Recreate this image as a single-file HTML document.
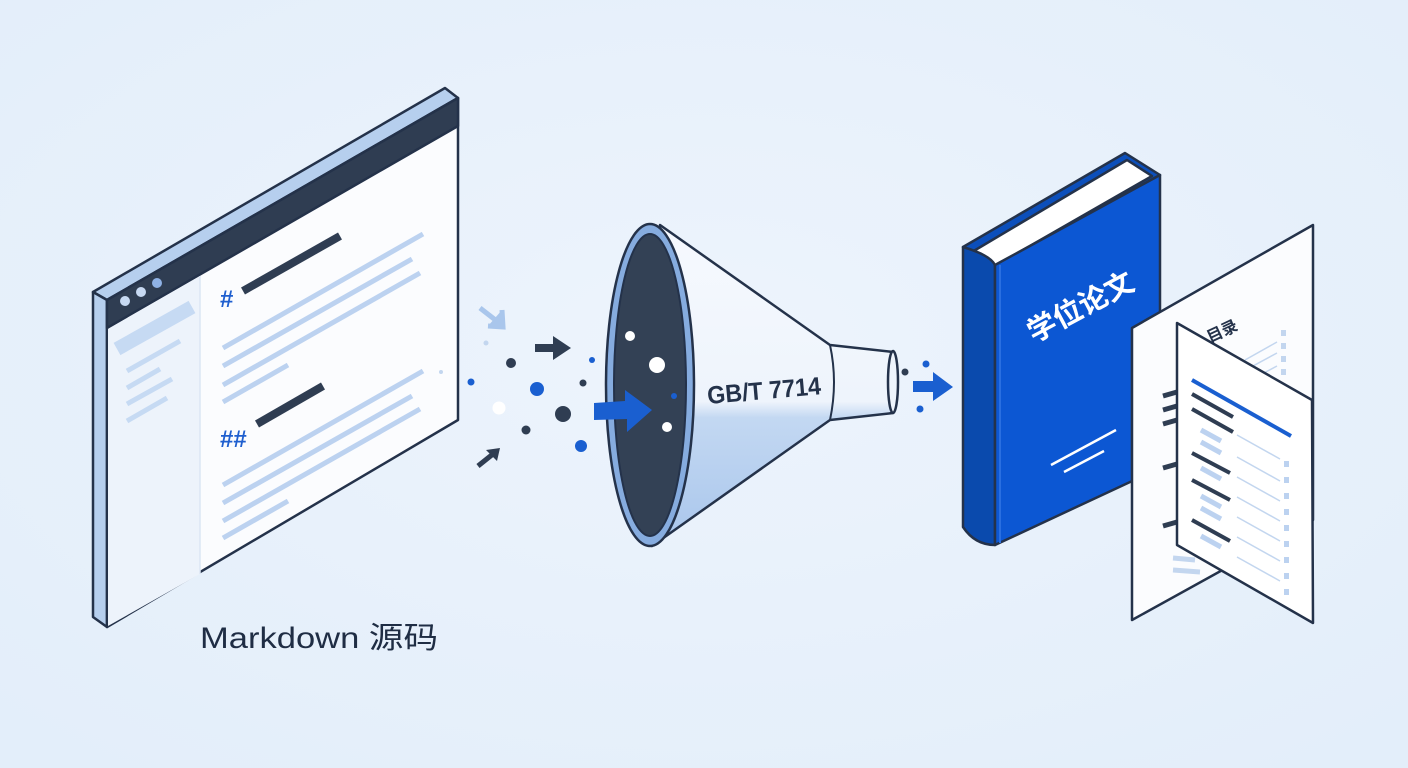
<!DOCTYPE html>
<html><head><meta charset="utf-8"><style>
html,body{margin:0;padding:0;background:#e7f0fb;}
svg{display:block}
</style></head><body>
<svg width="1408" height="768" viewBox="0 0 1408 768" xmlns="http://www.w3.org/2000/svg">
<defs>
<radialGradient id="bg" cx="50%" cy="45%" r="70%"><stop offset="0" stop-color="#edf4fc"/><stop offset="1" stop-color="#e3eefa"/></radialGradient>
<linearGradient id="cone" x1="0" y1="0" x2="0" y2="1"><stop offset="0" stop-color="#f6f9fe"/><stop offset="0.55" stop-color="#eef4fc"/><stop offset="0.6" stop-color="#c3d8f2"/><stop offset="1" stop-color="#a9c6ec"/></linearGradient>
</defs>
<rect width="1408" height="768" fill="url(#bg)"/>

<!-- Browser window -->
<g stroke="#24324a" stroke-width="2.5" stroke-linejoin="round">
  <polygon points="93,292 445,88 458,98 107,300" fill="#b6cfee"/>
  <polygon points="93,292 107,300 107,627 93,617" fill="#b6cfee"/>
  <polygon points="107,300 458,98 458,420 107,627" fill="#fbfcfe"/>
  <polygon points="107,300 458,98 458,126 107,328" fill="#2f3d52"/>
</g>
<polygon points="108,329 200,276 200,574 108,626" fill="#edf3fb"/>
<line x1="200" y1="276" x2="200" y2="574" stroke="#dbe6f4" stroke-width="1.5"/>
<circle cx="125" cy="301" r="5" fill="#c7d9f2"/>
<circle cx="141" cy="292" r="5" fill="#c7d9f2"/>
<circle cx="157" cy="283" r="5" fill="#8fb2e6"/>
<g stroke-linecap="butt">
  <line x1="117" y1="349" x2="192" y2="307" stroke="#c6daf3" stroke-width="14"/>
  <g stroke="#c6daf3" stroke-width="5">
    <line x1="127" y1="371" x2="180" y2="341"/>
    <line x1="127" y1="388" x2="160" y2="369"/>
    <line x1="127" y1="404" x2="172" y2="379"/>
    <line x1="127" y1="421" x2="167" y2="398"/>
  </g>
  <line x1="243" y1="291" x2="340" y2="236" stroke="#2f3d52" stroke-width="8"/>
  <line x1="257" y1="424" x2="323" y2="386" stroke="#2f3d52" stroke-width="8"/>
  <g stroke="#bcd2f0" stroke-width="5">
    <line x1="223" y1="348" x2="423" y2="234"/>
    <line x1="223" y1="366" x2="412" y2="259"/>
    <line x1="223" y1="385" x2="420" y2="273"/>
    <line x1="223" y1="402" x2="288" y2="365"/>
    <line x1="223" y1="485" x2="423" y2="371"/>
    <line x1="223" y1="503" x2="412" y2="396"/>
    <line x1="223" y1="521" x2="420" y2="409"/>
    <line x1="223" y1="538" x2="288" y2="501"/>
  </g>
</g>
<text x="220" y="307" font-family="Liberation Sans, sans-serif" font-size="24" font-weight="bold" fill="#1f5fcf">#</text>
<text x="220" y="447" font-family="Liberation Sans, sans-serif" font-size="24" font-weight="bold" fill="#1f5fcf">##</text>
<text x="200" y="648" textLength="238" lengthAdjust="spacingAndGlyphs" font-family="Liberation Sans, 'Noto Sans CJK SC', sans-serif" font-size="30" fill="#1f2d44">Markdown 源码</text>

<!-- particles -->
<circle cx="441" cy="372" r="2" fill="#c3d6ef"/>
<circle cx="471" cy="382" r="3.5" fill="#1a5fd0"/>
<circle cx="486" cy="343" r="2.5" fill="#c3d6ef"/>
<circle cx="511" cy="363" r="5" fill="#2f3d52"/>
<circle cx="537" cy="389" r="7" fill="#1a5fd0"/>
<circle cx="499" cy="408" r="6.5" fill="#ffffff"/>
<circle cx="563" cy="414" r="8" fill="#2f3d52"/>
<circle cx="526" cy="430" r="4.5" fill="#2f3d52"/>
<circle cx="581" cy="446" r="6" fill="#1a5fd0"/>
<circle cx="583" cy="383" r="3.5" fill="#2f3d52"/>
<circle cx="592" cy="360" r="3" fill="#1a5fd0"/>
<path d="M480 308 L498 322 M502 310 L503 327 L488 326" stroke="#a9c6ec" stroke-width="5" fill="#a9c6ec" stroke-linejoin="miter"/>
<polygon points="535,344 553,344 553,336 571,348 553,360 553,352 535,352" fill="#2f3d52"/>
<path d="M478 466 L493 454" stroke="#2f3d52" stroke-width="5"/>
<polygon points="486,450 500,448 497,461" fill="#2f3d52"/>

<!-- funnel -->
<path d="M660 225 L830 345 L893 352 L893 413 L830 420 L652 546 Z" fill="url(#cone)" stroke="#24324a" stroke-width="2.5" stroke-linejoin="round"/>
<path d="M830 345 Q838 382 830 420" fill="none" stroke="#24324a" stroke-width="2"/>
<ellipse cx="893" cy="382" rx="5" ry="31" fill="#eef4fc" stroke="#24324a" stroke-width="2.5"/>
<ellipse cx="650" cy="385" rx="44" ry="161" fill="#86acdf" stroke="#24324a" stroke-width="2.5"/>
<ellipse cx="650" cy="385" rx="36" ry="151" fill="#334155" stroke="#24324a" stroke-width="2"/>
<circle cx="630" cy="336" r="5" fill="#fff"/>
<circle cx="657" cy="365" r="8" fill="#fff"/>
<circle cx="667" cy="427" r="5" fill="#fff"/>
<circle cx="674" cy="396" r="3" fill="#1a5fd0"/>
<polygon points="594,403 625,401 625,390 652,410 627,432 627,419 594,420" fill="#1a5fd0"/>
<text x="0" y="0" transform="translate(708,404) rotate(-5)" textLength="114" lengthAdjust="spacingAndGlyphs" font-family="Liberation Sans, sans-serif" font-size="25" font-weight="bold" fill="#24324a">GB/T 7714</text>
<circle cx="905" cy="372" r="3.5" fill="#2f3d52"/>
<circle cx="926" cy="364" r="3.5" fill="#1a5fd0"/>
<circle cx="920" cy="409" r="3.5" fill="#1a5fd0"/>
<polygon points="913,381 933,381 933,372 953,387 933,401 933,392 913,392" fill="#1a5fd0"/>

<!-- book -->
<g stroke="#24324a" stroke-width="2.5" stroke-linejoin="round">
  <polygon points="963,247 1125,153 1160,175 995,265" fill="#0c4fbb"/>
  <polygon points="972,252 1127,160 1152,176 995,266" fill="#ffffff"/>
  <path d="M963 247 Q990 255 995 265 L995 545 Q975 545 963 527 Z" fill="#0a4aad"/>
  <polygon points="995,265 1160,175 1160,468 995,545" fill="#0c57d3"/>
</g>
<line x1="1000" y1="265" x2="1000" y2="543" stroke="#2a6fe0" stroke-width="2"/>
<text x="0" y="0" transform="translate(1034,343) rotate(-28)" font-family="Liberation Sans, 'Noto Sans CJK SC', sans-serif" font-size="29" font-weight="bold" fill="#ffffff">学位论文</text>
<line x1="1051" y1="465" x2="1116" y2="430" stroke="#fff" stroke-width="2.5"/>
<line x1="1064" y1="472" x2="1104" y2="451" stroke="#fff" stroke-width="2.5"/>

<!-- back page -->
<polygon points="1132,328 1313,225 1313,520 1132,620" fill="#fbfcfe" stroke="#24324a" stroke-width="2.5" stroke-linejoin="round"/>
<text x="0" y="0" transform="translate(1210,343) rotate(-25)" font-family="Liberation Sans, 'Noto Sans CJK SC', sans-serif" font-size="16" font-weight="bold" fill="#24324a">目录</text>
<g stroke="#c3d6ef" stroke-width="1.5">
  <line x1="1245" y1="360" x2="1277" y2="342"/>
  <line x1="1240" y1="373" x2="1277" y2="353"/>
  <line x1="1245" y1="383" x2="1277" y2="366"/>
</g>
<g fill="#c3d6ef"><rect x="1281" y="330" width="5" height="6"/><rect x="1281" y="343" width="5" height="6"/><rect x="1281" y="356" width="5" height="6"/><rect x="1281" y="369" width="5" height="6"/></g>
<g stroke="#2f3d52" stroke-width="5">
  <line x1="1163" y1="396" x2="1177" y2="392"/>
  <line x1="1163" y1="410" x2="1177" y2="406"/>
  <line x1="1163" y1="424" x2="1177" y2="420"/>
  <line x1="1163" y1="468" x2="1177" y2="464"/>
  <line x1="1163" y1="526" x2="1177" y2="522"/>
</g>
<g stroke="#c3d6ef" stroke-width="5">
  <line x1="1173" y1="558" x2="1195" y2="560"/>
  <line x1="1173" y1="570" x2="1200" y2="572"/>
</g>
<!-- front page -->
<polygon points="1177,323 1312,400 1313,623 1177,545" fill="#ffffff" stroke="#24324a" stroke-width="2.5" stroke-linejoin="round"/>
<line x1="1192" y1="380" x2="1291" y2="436" stroke="#1a5fd0" stroke-width="4"/>
<g stroke="#2f3d52" stroke-width="4">
  <line x1="1192" y1="394" x2="1233" y2="417"/>
  <line x1="1192" y1="409" x2="1233" y2="432"/>
  <line x1="1192" y1="453" x2="1230" y2="473"/>
  <line x1="1192" y1="480" x2="1230" y2="500"/>
  <line x1="1192" y1="520" x2="1230" y2="541"/>
</g>
<g stroke="#bcd2f0" stroke-width="5">
  <line x1="1201" y1="430" x2="1221" y2="441"/>
  <line x1="1201" y1="442" x2="1221" y2="453"/>
  <line x1="1201" y1="468" x2="1221" y2="479"/>
  <line x1="1201" y1="496" x2="1221" y2="507"/>
  <line x1="1201" y1="508" x2="1221" y2="519"/>
  <line x1="1201" y1="536" x2="1221" y2="547"/>
</g>
<g stroke="#c3d6ef" stroke-width="1.5">
  <line x1="1237" y1="435" x2="1280" y2="459"/>
  <line x1="1237" y1="457" x2="1280" y2="481"/>
  <line x1="1237" y1="477" x2="1280" y2="501"/>
  <line x1="1237" y1="497" x2="1280" y2="521"/>
  <line x1="1237" y1="517" x2="1280" y2="541"/>
  <line x1="1237" y1="537" x2="1280" y2="561"/>
  <line x1="1237" y1="557" x2="1280" y2="581"/>
</g>
<g fill="#bcd2f0">
  <rect x="1284" y="461" width="5" height="6"/><rect x="1284" y="477" width="5" height="6"/><rect x="1284" y="493" width="5" height="6"/>
  <rect x="1284" y="509" width="5" height="6"/><rect x="1284" y="525" width="5" height="6"/><rect x="1284" y="541" width="5" height="6"/>
  <rect x="1284" y="557" width="5" height="6"/><rect x="1284" y="573" width="5" height="6"/><rect x="1284" y="589" width="5" height="6"/>
</g>
</svg>
</body></html>
